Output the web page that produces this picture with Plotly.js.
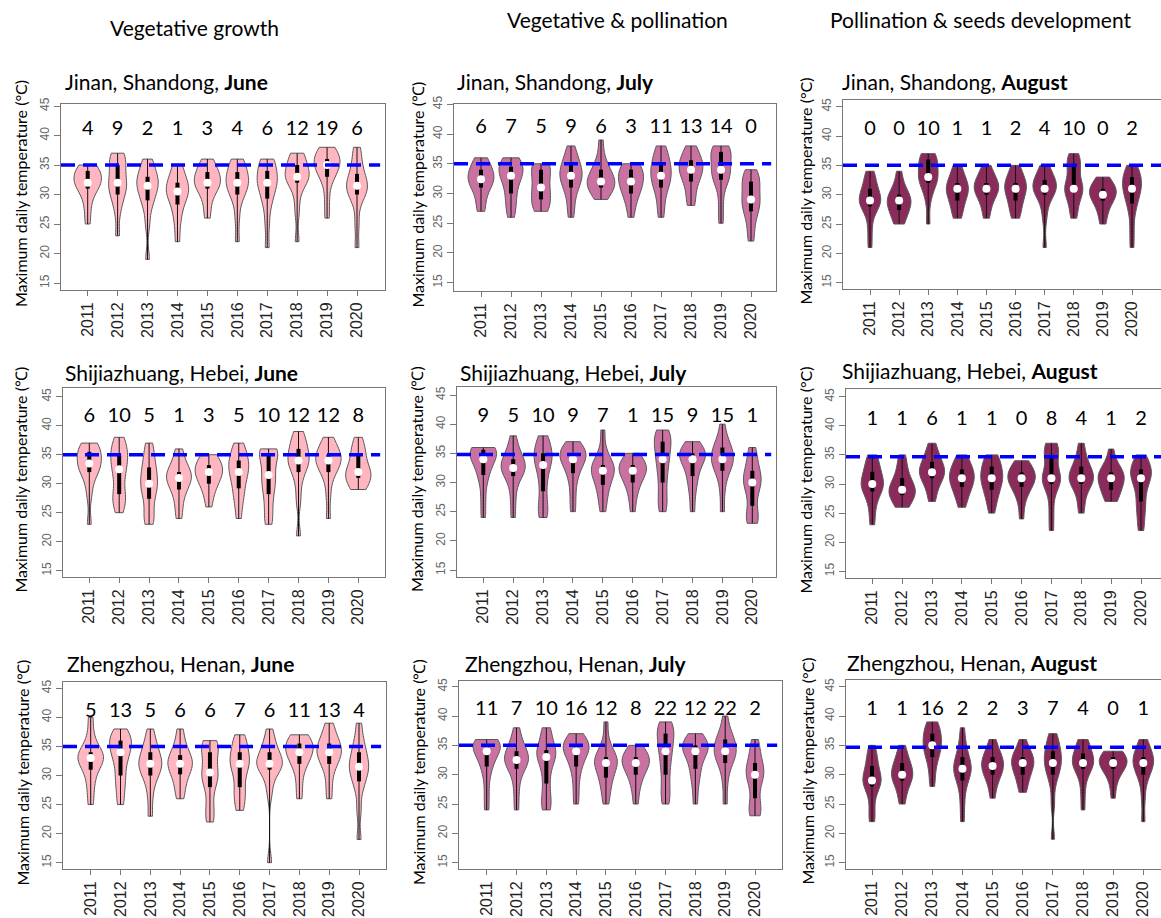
<!DOCTYPE html>
<html><head><meta charset="utf-8">
<script src="https://cdn.plot.ly/plotly-3.0.1.min.js"></script>
<style>html,body{margin:0;padding:0;background:#fff}</style>
</head><body><div id="chart" style="width:1161px;height:918px"></div>
<script>
// ---------- DATA ----------
const years = ['2011','2012','2013','2014','2015','2016','2017','2018','2019','2020'];
const stageHeaders = ['Vegetative growth', 'Vegetative & pollination', 'Pollination & seeds development'];
const cities = ['Jinan, Shandong', 'Shijiazhuang, Hebei', 'Zhengzhou, Henan'];
const months = ['June', 'July', 'August'];
const tempTicks = [15, 20, 25, 30, 35, 40, 45];

// Estimated daily maximum temperature samples (°C), one list per year
const jinanJune = [
  [25,27.5,29.5,31,31.5,32,32,32.5,33,34,34,34.5,35],
  [23,27,29,30,31,31.5,32,33,34,35,36,36.5,37],
  [19,25,28,29,30,31,31.5,32,32.5,33,34,35,36],
  [22,25,27,28.3,29.5,30,30.5,31,31.5,32,33,34,35],
  [26,28,30,31,31.5,32,32,32.5,33,33.8,34.5,35,36],
  [22,26,29,30,31,31.5,32,32.5,33,33.8,34.5,35.5,36],
  [21,25,28,29.3,30.5,31.5,32,32.5,33,34,35,35.5,36],
  [22,27,30,32,32.5,33,33,33.5,34,35,36,36.5,37],
  [26,29,32,33,34,34.5,35,35.5,36,36,37,37.5,38],
  [21,25,28.5,30,30.5,31,31.5,32,33,33.5,35,36.5,38]
];
const jinanJuly = [
  [27,28,30,31,31.8,32.2,32.4,32.8,33.2,34,34.5,35.5,36],
  [26,27.5,29,30,31.5,32.5,33,33.5,34,34.5,35,35.5,36],
  [27,27.5,28,29,29.5,30.5,31,32,33,34,34.5,35,35],
  [26,28,30,31,32,32.5,33,33.5,34,34.8,35.5,36.5,38],
  [29,30,30.5,31,31.5,32,32,32.5,33,34,34.5,36,39],
  [26,28,29.5,30,31,31.5,32,32.5,33,34,34,34.5,35],
  [26,28,30,31,32,32.5,33,34,34.5,35,36,37,38],
  [28,29,31,32,33,33.5,34,34.5,35,35.6,36,37,38],
  [25,28,31,32.3,33,33.5,34,35,36,37,37,37.5,38],
  [22,24,26,27,28,28.5,29,30,31,32,32.5,33,34]
];
const jinanAugust = [
  [21,24,27,28,28.5,29,29,29.5,30,31,32,33,34],
  [25,25.5,26.5,27.4,28,28.5,29,29,29.5,30,30.5,32,34],
  [25,29,31,32,32.5,33,33,34,35,36,36,36.5,37],
  [26,27,28,29,30,30.5,31,31,31.5,32,33,34,35],
  [26,27.5,29,30,30.5,31,31,31.5,32,32,33,34,35],
  [26,27,28,29,30,30.5,31,31.5,32,32,33,34,35],
  [21,26,28.5,30,30.5,31,31,31.5,32,32.5,33,34,35],
  [26,27.5,29,30.5,30.8,31,31,32,33.5,35,35.5,36,37],
  [25,26.5,28,29,29.5,30,30,30.5,31,31,31.5,32,33],
  [21,24,27,28.5,29.5,30.5,31,31.5,32,33,33.5,34,35]
];
const shijiazhuangJune = [
  [23,28,30.5,32,32.5,33,33.5,34,35,35.5,36,36.5,37],
  [25,26.5,27.5,28.2,30,31.5,32.5,33.5,34.5,35,36,37,38],
  [23,24,25.5,27.4,28.5,29.5,30,31,32,32.8,34,35.5,37],
  [24,26,28,29,30,30.5,31,31.5,32,32,33,34.5,36],
  [26,28,29.5,30,31,31.5,32,32.3,32.7,33.2,33.8,34.5,35],
  [24,26.5,28,29.2,30.5,31.5,32,33,33.5,34,35,36,37],
  [23,24.5,26.5,28.2,29.5,30.5,31.5,32.5,34,35,35.5,36,36],
  [21,27,30,32,33,33.5,34,34.5,35.5,36,37,38,39],
  [24,28,31,32,33,33.5,34,34.5,35,35,36,37,38],
  [29,29.5,30,31,31.5,31.8,32,32.5,33.5,35,35.5,36.5,38]
];
const shijiazhuangJuly = [
  [24,27,30,31.3,32.5,33.5,34,34.5,35,35.6,35.8,36,36],
  [24,27,29.5,31.1,31.8,32.2,32.5,33,33.5,34,35,36,38],
  [24,25,26.5,28.5,30.5,32,33,34,34.5,35,36,37,38],
  [25,27.5,30,31.6,32.5,33.5,34,34.5,35,35,35.5,36,37],
  [25,27,28.5,29.6,30.5,31.5,32,32.3,32.7,33,34,35.5,39],
  [25,27.5,29,30,31,31.5,32,32.3,32.7,33,33.5,34,35],
  [25,26.5,28,30,31.5,33,34,35,36,37,37.5,38.5,39],
  [25,28,30,31.1,32.5,33.5,34,34.5,35,35,35.5,36,37],
  [25,28.5,31,32,33,33.5,34,34.5,35,36,36.5,37.5,40],
  [23,23.5,24.5,26,28,29,30,30.5,31,32,33,34.5,36]
];
const shijiazhuangAugust = [
  [23,25.5,27.5,28.7,29.3,29.7,30,30.5,31.3,32.1,33,34,35],
  [26,26.5,27.5,28.1,28.5,28.8,29,29.5,30,31,32,33.5,35],
  [27,28.5,30,31,31.5,31.8,32,32.5,33,33.8,34.5,35.5,37],
  [26,27.5,28.5,29.5,30,30.5,31,31.5,32,32.5,33,34,35],
  [25,27,28,29,30,30.5,31,31.5,32,33,33.5,34.5,35],
  [24,27,28.5,29.5,30,30.5,31,31.3,31.7,32,32.5,33.3,34],
  [22,25,28,30,30.5,30.8,31,32,33.5,35,35.5,36.5,37],
  [25,27,29,30,30.5,30.8,31,31.5,32,33,33.5,35,37],
  [27,27.5,28.5,29,30,30.5,31,31.3,31.7,32,32.5,33.5,36],
  [22,24,26,27,29,30,31,31.5,32,32.5,33,34,35]
];
const zhengzhouJune = [
  [25,27.5,29.5,31,32,32.5,33,33.3,33.7,34,35,37,40],
  [25,27,29,30,32,33,34,34.5,35.5,36,36.5,37,38],
  [23,26.5,29,30,31,31.5,32,32.5,33,34,35,36,38],
  [26,27.5,29,30.2,31,31.5,32,32.5,33,33.5,34.5,36,38],
  [22,23.5,25.5,28,29,30,30.5,31.5,33,34,35,35.5,36],
  [24,25.5,27,28,30,31,32,32.5,33,34,35,36,37],
  [15,27,29.5,31,31.5,32,32,32.5,33,34,35,36,38],
  [26,28.5,31,32,33,33.5,34,34.5,35,35.5,36,36.5,37],
  [26,28.5,31,32,33,33.5,34,34.5,35,35.5,36.5,37.5,39],
  [19,24,27.5,29,30,31,31.5,32,33,34,35,36.5,39]
];
const zhengzhouJuly = [
  [24,27,30,31.4,32.5,33.5,34,34.5,35,35,35.5,36,36],
  [24,27,29.5,31,31.8,32.2,32.5,33,33.5,34,35,36,38],
  [24,25,26.5,28.5,30.5,32,33,33.5,34,34.2,35.5,37,38],
  [25,27.5,30,31.4,32.5,33.5,34,34.5,35,35,35.5,36,37],
  [25,27,28.5,29.5,30.5,31.5,32,32.3,32.7,33,34,35.5,39],
  [25,27.5,29,30,31,31.5,32,32.3,32.7,33,33.5,34,35],
  [25,26.5,28,30,31.5,33,34,35,36,37,37.5,38.5,39],
  [25,28,30,31,32.5,33.5,34,34.5,35,35,35.5,36,37],
  [25,28.5,31,32,33,33.5,34,34.5,35,36,36.5,37.5,40],
  [23,23.5,24.5,26,28,29,30,30.5,31,32,33,34.5,36]
];
const zhengzhouAugust = [
  [22,23.5,26,28,28.5,28.8,29,29.5,30.5,31.5,32.5,33.5,35],
  [25,26.5,28,29,29.5,29.8,30,30.5,31,32,32.5,33.5,35],
  [28,30,32,33,34,34.5,35,35.5,36.5,37,37.5,38.5,39],
  [22,25,27.5,29,30,30.5,31,31.5,32,33,34,35.5,38],
  [26,28,29.5,30,30.7,31.2,31.5,32,32.5,33,33.5,34.5,36],
  [27,28,29.5,30,31,31.5,32,32.3,32.7,33,33.5,34.5,36],
  [19,25,28.5,30,31,31.5,32,33,33.5,34,35,36,37],
  [24,27,29.5,31,31.5,31.8,32,32.5,33,33.6,34.5,35.5,36],
  [26,28.5,30,31,31.5,31.8,32,32.2,32.5,33,33,33.5,34],
  [22,26,29,30,31,31.5,32,32.5,33,33,34,35,36]
];

// Number of days with maximum temperature >= 35 °C
const hotDaysJinanJune = [4,9,2,1,3,4,6,12,19,6];
const hotDaysJinanJuly = [6,7,5,9,6,3,11,13,14,0];
const hotDaysJinanAugust = [0,0,10,1,1,2,4,10,0,2];
const hotDaysShijiazhuangJune = [6,10,5,1,3,5,10,12,12,8];
const hotDaysShijiazhuangJuly = [9,5,10,9,7,1,15,9,15,1];
const hotDaysShijiazhuangAugust = [1,1,6,1,1,0,8,4,1,2];
const hotDaysZhengzhouJune = [5,13,5,6,6,7,6,11,13,4];
const hotDaysZhengzhouJuly = [11,7,10,16,12,8,22,12,22,2];
const hotDaysZhengzhouAugust = [1,1,16,2,2,3,7,4,0,1];

const thresholds = [35,35,35, 35,34.8,34.7, 35,35,34.7];

// ---------- STYLE / LAYOUT ----------
const W = 1161, H = 918;
const monthColors = ['#FFB6C1', '#C971A1', '#8B2B5B'];
const unitLabels = ['(°C)','(℃)','(°C)','(℃)','(℃)','(°C)','(℃)','(℃)','(°C)'];
const TXT = 'Lato, Carlito, sans-serif';
const NUM = 'Liberation Sans, Arial, sans-serif';

const panels = [
  {data: jinanJune, counts: hotDaysJinanJune, city: 0, month: 0},
  {data: jinanJuly, counts: hotDaysJinanJuly, city: 0, month: 1},
  {data: jinanAugust, counts: hotDaysJinanAugust, city: 0, month: 2},
  {data: shijiazhuangJune, counts: hotDaysShijiazhuangJune, city: 1, month: 0},
  {data: shijiazhuangJuly, counts: hotDaysShijiazhuangJuly, city: 1, month: 1},
  {data: shijiazhuangAugust, counts: hotDaysShijiazhuangAugust, city: 1, month: 2},
  {data: zhengzhouJune, counts: hotDaysZhengzhouJune, city: 2, month: 0},
  {data: zhengzhouJuly, counts: hotDaysZhengzhouJuly, city: 2, month: 1},
  {data: zhengzhouAugust, counts: hotDaysZhengzhouAugust, city: 2, month: 2}
];
// pixel geometry of each panel
const geom = [
  {L:61, R:385, T:104, B:290, y45:106, y15:283, x1:87.7, x10:357, tx:63, ty:82, ytx:20, cy:41},
  {L:454, R:776, T:104, B:291, y45:104.3, y15:282.7, x1:481, x10:751, tx:455, ty:82, ytx:417, cy:41},
  {L:843, R:1161, T:100, B:289, y45:106.7, y15:282.7, x1:870, x10:1132, tx:840, ty:82, ytx:805, cy:41},
  {L:63, R:385, T:388, B:577, y45:396.7, y15:570.7, x1:89.3, x10:358.3, tx:63, ty:372, ytx:20, cy:41.5},
  {L:457, R:776, T:387, B:577, y45:395, y15:570, x1:483.3, x10:752.3, tx:458, ty:372, ytx:417, cy:41.3},
  {L:846, R:1161, T:389, B:578, y45:396.7, y15:571.3, x1:872.3, x10:1141, tx:840, ty:370, ytx:805, cy:41},
  {L:63, R:386, T:682, B:869, y45:688.3, y15:862.7, x1:90.7, x10:359, tx:65, ty:663, ytx:22, cy:41},
  {L:459, R:782, T:681, B:869, y45:686.7, y15:862.7, x1:486.7, x10:755, tx:463, ty:663, ytx:418, cy:41},
  {L:846, R:1161, T:680, B:869, y45:686.7, y15:862.7, x1:872, x10:1143.3, tx:845, ty:662, ytx:807, cy:41}
];

function quant(sorted, p) {
  const pos = (sorted.length - 1) * p, lo = Math.floor(pos), hi = Math.ceil(pos);
  return sorted[lo] + (sorted[hi] - sorted[lo]) * (pos - lo);
}

const traces = [];
const layout = {
  width: W, height: H, margin: {l:0, r:0, t:0, b:0},
  paper_bgcolor: '#fff', plot_bgcolor: '#fff', showlegend: false,
  violingap: 0, violingroupgap: 0, violinmode: 'overlay',
  annotations: [], shapes: [], font: {family: TXT}
};

panels.forEach((p, i) => {
  const g = geom[i];
  const ax = i === 0 ? '' : String(i + 1);
  const xs = [], ys = [];
  const wx = [], wy = [], bx = [], by = [], mx = [], my = [];
  p.data.forEach((arr, j) => {
    const s = arr.slice().sort((a, b) => a - b);
    s.forEach(v => { xs.push(j + 1); ys.push(v); });
    wx.push(j + 1, j + 1, null); wy.push(s[0], s[s.length - 1], null);
    bx.push(j + 1, j + 1, null); by.push(quant(s, 0.25), quant(s, 0.75), null);
    mx.push(j + 1); my.push(quant(s, 0.5));
  });
  const common = {xaxis: 'x' + ax, yaxis: 'y' + ax, hoverinfo: 'skip', showlegend: false};
  traces.push(Object.assign({
    type: 'violin', x: xs, y: ys, fillcolor: monthColors[p.month],
    line: {color: '#5a5a5a', width: 1}, spanmode: 'hard', width: 0.92, scalemode: 'width',
    points: false, box: {visible: false}, meanline: {visible: false}, bandwidth: 1.6
  }, common));
  traces.push(Object.assign({type: 'scatter', mode: 'lines', x: wx, y: wy,
    line: {color: '#111', width: 1}}, common));
  traces.push(Object.assign({type: 'scatter', mode: 'lines', x: bx, y: by,
    line: {color: '#000', width: 4}}, common));
  traces.push(Object.assign({type: 'scatter', mode: 'markers', x: mx, y: my,
    marker: {color: '#fff', size: 8, line: {width: 0}}}, common));
  traces.push(Object.assign({type: 'scatter', mode: 'text', x: years.map((_, j) => j + 1),
    y: years.map(() => g.cy), text: p.counts.map(String),
    textfont: {family: TXT, size: 20, color: '#000'}, textposition: 'middle center'}, common));

  const ux = (g.x10 - g.x1) / 9;
  const uy = (g.y15 - g.y45) / 30;
  layout['xaxis' + ax] = {
    domain: [g.L / W, g.R / W], anchor: 'y' + ax,
    range: [1 - (g.x1 - g.L) / ux, 10 + (g.R - g.x10) / ux],
    tickmode: 'array', tickvals: years.map((_, j) => j + 1), ticktext: years,
    tickangle: -90, tickfont: {family: NUM, size: 16, color: '#222'},
    ticks: 'outside', ticklen: 5, tickcolor: '#777', tickwidth: 1,
    showline: true, mirror: true, linecolor: '#777', linewidth: 1,
    showgrid: false, zeroline: false, fixedrange: true
  };
  layout['yaxis' + ax] = {
    domain: [1 - g.B / H, 1 - g.T / H], anchor: 'x' + ax,
    range: [15 - (g.B - g.y15) / uy, 45 + (g.y45 - g.T) / uy],
    tickmode: 'array', tickvals: tempTicks, ticktext: tempTicks.map(String),
    tickangle: -90, tickfont: {family: NUM, size: 12, color: '#666'},
    ticks: 'outside', ticklen: 6, tickcolor: '#777', tickwidth: 1,
    showline: true, mirror: true, linecolor: '#777', linewidth: 1,
    showgrid: false, zeroline: false, fixedrange: true
  };
  layout.shapes.push({type: 'line', xref: 'x' + ax + ' domain', yref: 'y' + ax,
    x0: 0, x1: (i % 3 === 2) ? 1 : 0.985, y0: thresholds[i], y1: thresholds[i],
    line: {color: '#0000FF', width: 3.5, dash: '14px,8px'}});
  layout.annotations.push({xref: 'paper', yref: 'paper', x: g.tx / W, y: 1 - g.ty / H,
    xanchor: 'left', yanchor: 'middle', showarrow: false,
    text: cities[p.city] + ', <b>' + months[p.month] + '</b>',
    font: {family: TXT, size: 21, color: '#000'}});
  layout.annotations.push({xref: 'paper', yref: 'paper', x: g.ytx / W, y: 1 - ((g.T + g.B) / 2 - 3) / H,
    xanchor: 'center', yanchor: 'middle', showarrow: false, textangle: -90,
    text: 'Maximum daily temperature ' + unitLabels[i],
    font: {family: TXT, size: 16, color: '#000'}});
});

const headerPos = [{x:194, y:27}, {x:617, y:20}, {x:981, y:20}];
stageHeaders.forEach((h, k) => {
  layout.annotations.push({xref: 'paper', yref: 'paper', x: headerPos[k].x / W, y: 1 - headerPos[k].y / H,
    xanchor: 'center', yanchor: 'middle', showarrow: false, text: h,
    font: {family: TXT, size: 21, color: '#000'}});
});

Plotly.newPlot('chart', traces, layout, {staticPlot: true, displayModeBar: false});
</script>
</body></html>
